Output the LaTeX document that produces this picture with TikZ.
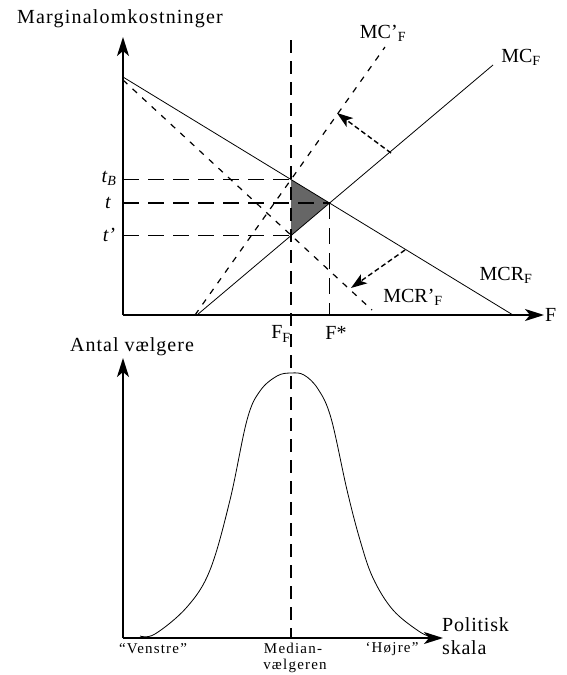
\documentclass[tikz,border=0pt]{standalone}
\usepackage{fontspec}
\setmainfont{Liberation Serif}
\usetikzlibrary{arrows.meta}
\begin{document}
\begin{tikzpicture}[x=1pt,y=-1pt,
  axis/.style={line width=1.7pt,-{Stealth[length=19pt,width=12pt,inset=5pt]}},
  curve/.style={line width=0.8pt},
  dcurve/.style={line width=1.2pt,dash pattern=on 6pt off 7pt},
  guide/.style={line width=1.6pt,dash pattern=on 16pt off 9pt},
  median/.style={line width=1.7pt,dash pattern=on 13pt off 8pt},
  shiftarrow/.style={line width=1.4pt,dash pattern=on 5pt off 3pt,-{Stealth[length=16pt,width=11pt,inset=4pt]}},
  lbl/.style={font=\fontsize{20}{22}\selectfont, inner sep=0pt},
  small/.style={font=\fontsize{15}{16}\selectfont, inner sep=0pt}
]
\useasboundingbox (0,0) rectangle (567,675);
% key points
\coordinate (O1) at (123,315);
\coordinate (Ytop1) at (123,37);
\coordinate (Xend1) at (544,315);
\coordinate (Mtop) at (291,40);
\coordinate (Mbot) at (291,638);
\coordinate (MCRa) at (123,77);
\coordinate (MCRb) at (513,315);
\coordinate (MCa) at (197,315);
\coordinate (MCb) at (493,65);
\coordinate (MCpa) at (195,315);
\coordinate (MCpb) at (385,47);
\coordinate (MCRpa) at (123,80);
\coordinate (MCRpb) at (372,310);
\coordinate (tB) at (291,179.5);
\coordinate (tE) at (329.5,203);
\coordinate (tP) at (291,235.6);
\coordinate (tBax) at (123,179.5);
\coordinate (tax) at (123,203);
\coordinate (tPax) at (123,235.6);
\coordinate (Fstar) at (329.5,315);
\coordinate (A1s) at (391,153);
\coordinate (A1e) at (337,113);
\coordinate (A2s) at (405,250);
\coordinate (A2e) at (351,288);
\coordinate (O2) at (123,638);
\coordinate (Ytop2) at (123,358);
\coordinate (Xend2) at (443,638);

% shaded welfare triangle
\fill[black!60] (tB) -- (tE) -- (tP) -- cycle;

% guide lines
\draw[guide] (tBax) -- (tB);
\draw[guide] (tax) -- (tE);
\draw[guide] (tPax) -- (tP);
\draw[guide] (tE) -- (Fstar);

% curves
\draw[curve] (MCRa) -- (MCRb);
\draw[curve] (MCa) -- (MCb);
\draw[dcurve] (MCpa) -- (MCpb);
\draw[dcurve] (MCRpa) -- (MCRpb);

% shift arrows
\draw[shiftarrow] (A1s) -- (A1e);
\draw[shiftarrow] (A2s) -- (A2e);

% median line
\draw[median] (Mtop) -- (Mbot);

% axes
\draw[axis] (O1) -- (Ytop1);
\draw[axis] (O1) -- (Xend1);
\draw[axis] (O2) -- (Ytop2);
\draw[axis] (O2) -- (Xend2);

% bell curve
\draw[curve] plot[smooth, tension=0.6] coordinates {(140,636) (155,634) (187,607) (210,570) (230,500) (247,420) (260,391) (277,376) (291,373) (304,375) (318,389) (331,418) (347,490) (360,540) (373,578) (393,610) (420,632) (433,637)};

% labels
\node[lbl] (ylab) at (120,19) {\addfontfeature{LetterSpace=6}Marginalomkostninger};
\node[lbl,anchor=west] (Flab) at (545,315) {F};
\node[lbl] (ltB) at (109,178) {\textit{t\textsubscript{B}}};
\node[lbl] (lt) at (108,203) {\textit{t}};
\node[lbl] (ltP) at (109,235) {\textit{t’}};
\node[lbl] (FF) at (281,334) {F\textsubscript{F}};
\node[lbl] (Fs) at (336,333) {F*};
\node[lbl] (mcp) at (383,33) {MC’\textsubscript{F}};
\node[lbl] (mc) at (521,57) {MC\textsubscript{F}};
\node[lbl] (mcr) at (506,275) {MCR\textsubscript{F}};
\node[lbl] (mcrp) at (413,297) {MCR’\textsubscript{F}};
\node[lbl] (ylab2) at (132,347) {\addfontfeature{LetterSpace=5}Antal vælgere};
\node[lbl,anchor=west] (pol1) at (442,625) {\addfontfeature{LetterSpace=4}Politisk};
\node[lbl,anchor=west] (pol2) at (442,648) {\addfontfeature{LetterSpace=4}skala};
\node[small] (ven) at (153,649) {\addfontfeature{LetterSpace=8}“Venstre”};
\node[small] (med1) at (293,648) {\addfontfeature{LetterSpace=8}Median-};
\node[small] (med2) at (295,666) {\addfontfeature{LetterSpace=8}vælgeren};
\node[small] (hoj) at (392,649) {\addfontfeature{LetterSpace=8}‘Højre”};
\end{tikzpicture}
\end{document}
